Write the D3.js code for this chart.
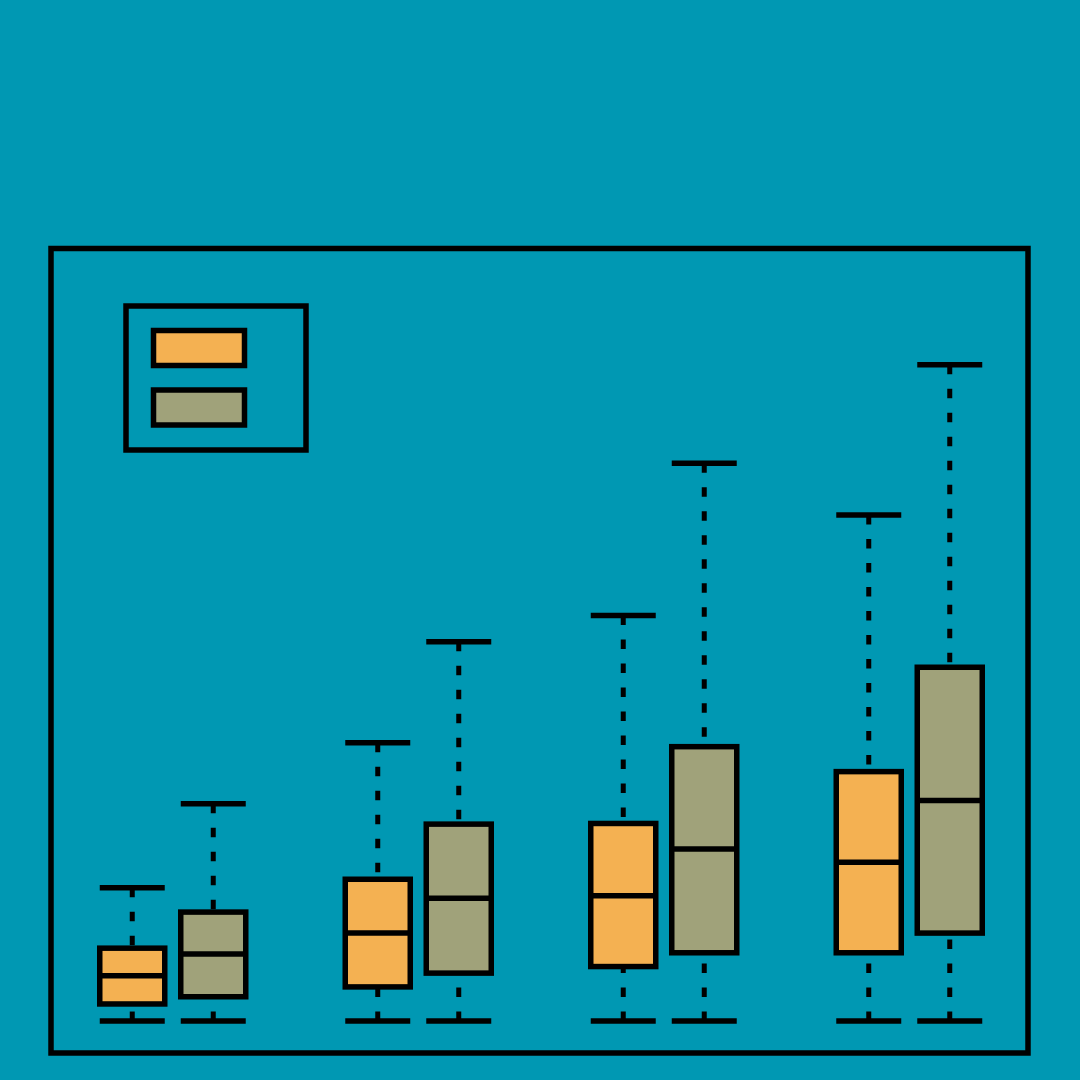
<!DOCTYPE html>
<html>
<head>
<meta charset="utf-8">
<script src="https://cdn.jsdelivr.net/npm/d3@7"></script>
<style>
  html, body { margin: 0; padding: 0; background: #0098b3; }
  svg { display: block; }
</style>
</head>
<body>
<svg id="chart" width="1080" height="1080"></svg>
<script>
// data
const groups = ['G1', 'G2', 'G3', 'G4'];
const series = ['Series A', 'Series B'];
const colors = ['#f4b152', '#a0a27a'];
// per series, per group: [min, q1, median, q3, max]
const statsA = [
  [0, 2.6, 6.9, 11.1, 20.3],
  [0, 5.2, 13.4, 21.6, 42.4],
  [0, 8.3, 19.1, 30.1, 61.8],
  [0, 10.4, 24.2, 38.0, 77.1]
];
const statsB = [
  [0, 3.7, 10.2, 16.6, 33.1],
  [0, 7.3, 18.7, 30.0, 57.8],
  [0, 10.4, 26.2, 41.8, 85.0],
  [0, 13.4, 33.6, 53.9, 100]
];
const yDomain = [-4.87, 117.7];

const svg = d3.select('#chart');
const W = 1080, H = 1080;
svg.append('rect').attr('width', W).attr('height', H).attr('fill', '#0098b3');

const plot = { left: 51, right: 1028, top: 248.5, bottom: 1053 };

const x = d3.scaleBand().domain(groups).range([50, 1032]);
const xs = d3.scalePoint().domain(series).range([-40.5, 40.5]);
const y = d3.scaleLinear().domain(yDomain).range([plot.bottom, plot.top]);
const boxW = 65;

// ── boxes ──
const rows = [];
groups.forEach((g, gi) => {
  [statsA, statsB].forEach((st, si) => {
    const [mn, q1, med, q3, mx] = st[gi];
    rows.push({ g, s: series[si], color: colors[si], mn, q1, med, q3, mx });
  });
});

const box = svg.append('g').selectAll('g.box').data(rows).enter().append('g')
  .attr('class', 'box')
  .attr('transform', d => `translate(${x(d.g) + x.bandwidth() / 2 + xs(d.s)},0)`);

// whiskers (dashed, drawn from cap toward box)
box.append('path')
  .attr('d', d => `M0,${y(d.mx)}L0,${y(d.q3)}`)
  .attr('stroke', '#000').attr('stroke-width', 5).attr('stroke-dasharray', '9.5,14.5');
box.append('path')
  .attr('d', d => `M0,${y(d.mn)}L0,${y(d.q1)}`)
  .attr('stroke', '#000').attr('stroke-width', 5).attr('stroke-dasharray', '9.5,14.5');

// caps
box.append('line')
  .attr('x1', -boxW / 2).attr('x2', boxW / 2)
  .attr('y1', d => y(d.mx)).attr('y2', d => y(d.mx))
  .attr('stroke', '#000').attr('stroke-width', 5.5);
box.append('line')
  .attr('x1', -boxW / 2).attr('x2', boxW / 2)
  .attr('y1', d => y(d.mn)).attr('y2', d => y(d.mn))
  .attr('stroke', '#000').attr('stroke-width', 5.5);

box.append('rect')
  .attr('x', -boxW / 2).attr('width', boxW)
  .attr('y', d => y(d.q3)).attr('height', d => y(d.q1) - y(d.q3))
  .attr('fill', d => d.color).attr('stroke', '#000').attr('stroke-width', 5.5);

box.append('line')
  .attr('x1', -boxW / 2).attr('x2', boxW / 2)
  .attr('y1', d => y(d.med)).attr('y2', d => y(d.med))
  .attr('stroke', '#000').attr('stroke-width', 5.5);

// frame
svg.append('rect')
  .attr('x', plot.left).attr('y', plot.top)
  .attr('width', plot.right - plot.left).attr('height', plot.bottom - plot.top)
  .attr('fill', 'none').attr('stroke', '#000').attr('stroke-width', 5.5);

// ── legend (swatches only) ──
const leg = svg.append('g').attr('transform', 'translate(126,306)');
leg.append('rect').attr('width', 180).attr('height', 144)
  .attr('fill', 'none').attr('stroke', '#000').attr('stroke-width', 5.5);
leg.selectAll('rect.sw').data(series).enter().append('rect')
  .attr('class', 'sw')
  .attr('x', 27.5).attr('y', (d, i) => 24.5 + i * 59.5)
  .attr('width', 91).attr('height', 35)
  .attr('fill', (d, i) => colors[i]).attr('stroke', '#000').attr('stroke-width', 5.5);
</script>
</body>
</html>
